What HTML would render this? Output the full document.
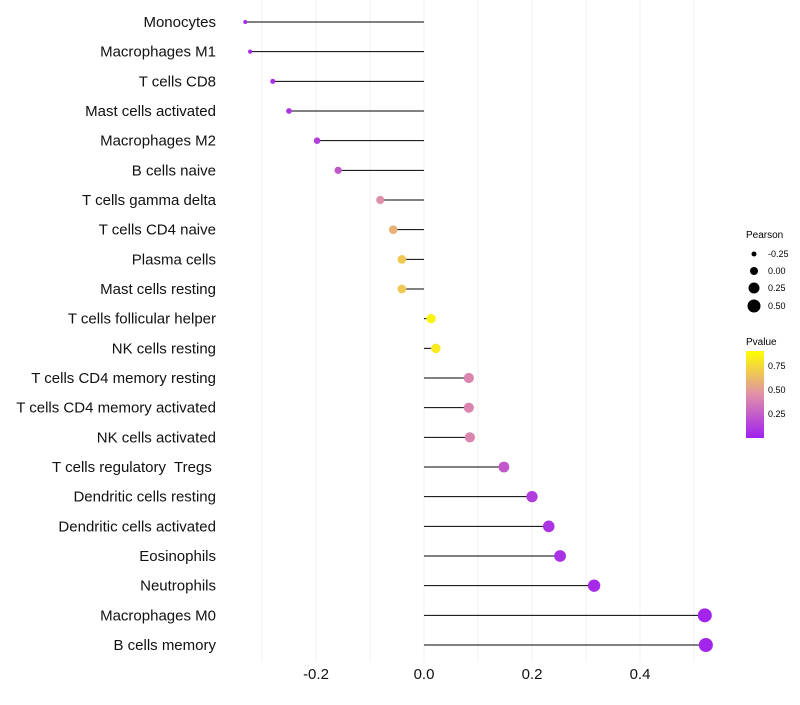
<!DOCTYPE html>
<html><head><meta charset="utf-8"><style>
body{margin:0;background:#fff;font-family:"Liberation Sans",sans-serif}
</style></head><body>
<svg id="chart" width="800" height="700" xmlns="http://www.w3.org/2000/svg" font-family="Liberation Sans, sans-serif">
<defs><linearGradient id="pg" x1="0" y1="1" x2="0" y2="0">
<stop offset="0" stop-color="#A020F0"/><stop offset="0.5" stop-color="#E090A8"/><stop offset="1" stop-color="#FFFF00"/>
</linearGradient></defs>
<g id="grid"></g><g id="marks"></g><g id="labels"></g>
<g font-size="9">
<text x="746" y="238" font-size="10">Pearson</text>
<circle cx="754" cy="254" r="2.5" fill="#000"/><text x="768" y="257">-0.25</text>
<circle cx="754" cy="271" r="4" fill="#000"/><text x="768" y="274">0.00</text>
<circle cx="754" cy="288" r="5.5" fill="#000"/><text x="768" y="291">0.25</text>
<circle cx="754" cy="306" r="6.5" fill="#000"/><text x="768" y="309">0.50</text>
</g>
<g font-size="9">
<text x="746" y="345" font-size="10">Pvalue</text>
<rect x="746" y="351" width="18" height="87" fill="url(#pg)"/>
<text x="768" y="369">0.75</text><text x="768" y="393">0.50</text><text x="768" y="417">0.25</text>
</g>
</svg>
<script>
const cells=["Monocytes","Macrophages M1","T cells CD8","Mast cells activated","Macrophages M2","B cells naive","T cells gamma delta","T cells CD4 naive","Plasma cells","Mast cells resting","T cells follicular helper","NK cells resting","T cells CD4 memory resting","T cells CD4 memory activated","NK cells activated","T cells regulatory  Tregs ","Dendritic cells resting","Dendritic cells activated","Eosinophils","Neutrophils","Macrophages M0","B cells memory"];
const pearson=[-0.331,-0.322,-0.280,-0.250,-0.198,-0.159,-0.081,-0.057,-0.041,-0.041,0.013,0.022,0.083,0.083,0.085,0.148,0.200,0.231,0.252,0.315,0.520,0.522];
const pvalue=[0.04,0.05,0.08,0.1,0.14,0.25,0.5,0.65,0.75,0.75,0.95,0.9,0.45,0.45,0.45,0.25,0.13,0.09,0.08,0.05,0.02,0.02];
const ticks=[-0.2,0,0.2,0.4];
const NS="http://www.w3.org/2000/svg";
const x=v=>424+v*540, y=i=>22+i*29.667;
const r=v=>Math.sqrt(Math.max(2,21.5+v*53));
function col(p){const a=[160,32,240],b=[224,144,168],c=[255,255,0];let s,e,t;if(p<0.5){s=a;e=b;t=p/0.5}else{s=b;e=c;t=(p-0.5)/0.5}return`rgb(${s.map((v,k)=>Math.round(v+(e[k]-v)*t)).join(",")})`}
function mk(tag,at,parent){const el=document.createElementNS(NS,tag);for(const k in at)el.setAttribute(k,at[k]);document.getElementById(parent).appendChild(el);return el}
for(let g=-0.3;g<=0.55;g+=0.1){const el=mk("line",{x1:x(g),x2:x(g),y1:0,y2:662,stroke:"#f0f0f0","stroke-width":1},"grid");

}
ticks.forEach(t=>{const el=mk("text",{x:x(t),y:679,"text-anchor":"middle","font-size":15,fill:"#111"},"labels");el.textContent=t.toFixed(1);

});
cells.forEach((c,i)=>{const l=mk("line",{x1:x(0),x2:x(pearson[i]),y1:y(i),y2:y(i),stroke:"#000","stroke-width":1},"marks");


const p=mk("circle",{cx:x(pearson[i]),cy:y(i),r:r(pearson[i]),fill:col(pvalue[i])},"marks");


const t=mk("text",{x:216,y:y(i)+5,"text-anchor":"end","font-size":15,fill:"#111","xml:space":"preserve"},"labels");t.textContent=c;
t.style.whiteSpace="pre";

});
</script>
</body></html>
